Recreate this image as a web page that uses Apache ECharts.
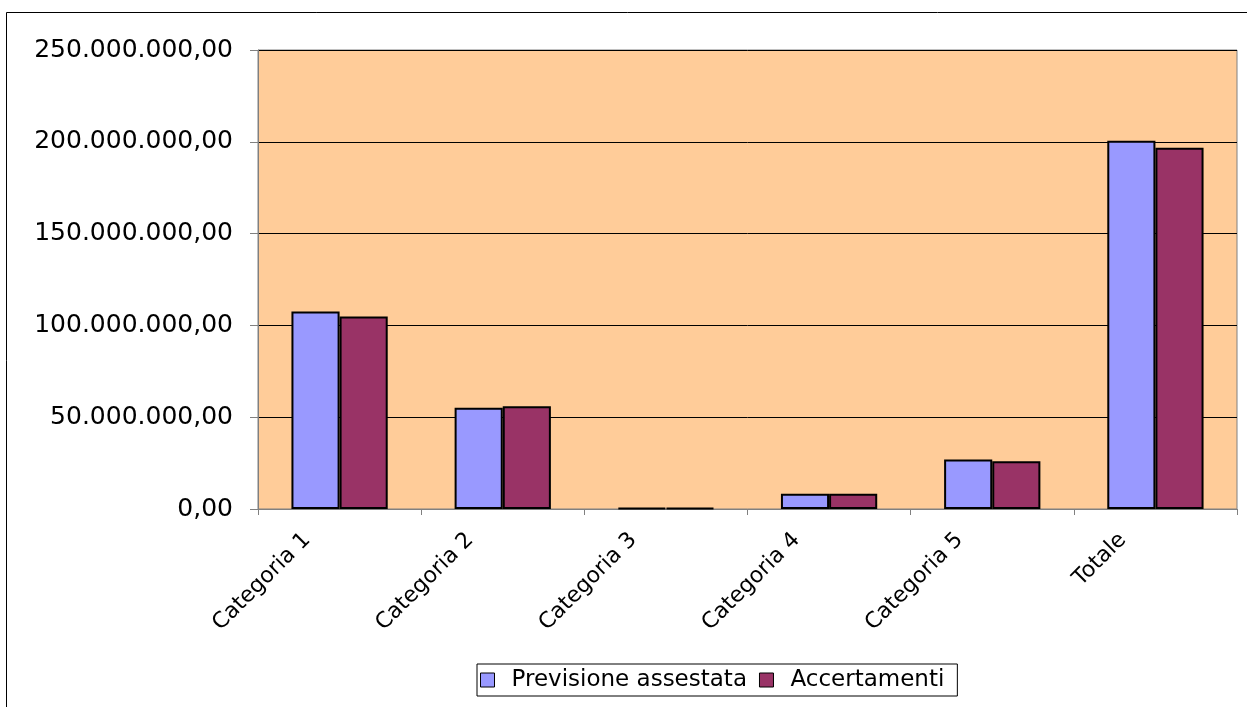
<!DOCTYPE html>
<html>
<head>
<meta charset="utf-8">
<script src="https://cdn.jsdelivr.net/npm/echarts@6/dist/echarts.min.js"></script>
<style>
html,body{margin:0;padding:0;background:#fff;}
#chart{width:1247px;height:707px;}
</style>
</head>
<body>
<div id="chart"></div>
<script>
var categories = ['Categoria 1', 'Categoria 2', 'Categoria 3', 'Categoria 4', 'Categoria 5', 'Totale'];
var previsione = [107600000, 55100000, 600000, 8300000, 26900000, 200600000];
var accertamenti = [104900000, 55900000, 600000, 8300000, 26000000, 196800000];
var seriesNames = ['Previsione assestata', 'Accertamenti'];

function fmt(v) {
  var s = Math.round(v).toString();
  s = s.replace(/\B(?=(\d{3})+(?!\d))/g, '.');
  return s + ',00';
}

var chart = echarts.init(document.getElementById('chart'), null, {renderer: 'canvas'});
var font = 'DejaVu Sans';
chart.setOption({
  animation: false,
  backgroundColor: '#ffffff',
  graphic: [{
    type: 'rect',
    shape: {x: 6.5, y: 12.5, width: 1250, height: 710},
    style: {fill: 'none', stroke: '#000', lineWidth: 1},
    silent: true
  }],
  grid: {
    left: 258, right: 10, top: 50, bottom: 198,
    show: true, backgroundColor: '#FFCC99', borderColor: '#808080', borderWidth: 1
  },
  legend: {
    data: seriesNames,
    left: 477, top: 664,
    itemWidth: 14, itemHeight: 14, itemGap: 12,
    icon: 'rect',
    padding: [4, 13, 4, 3],
    borderColor: '#000', borderWidth: 1,
    backgroundColor: '#fff',
    textStyle: {fontFamily: font, fontSize: 23, lineHeight: 24, color: '#000', padding: [0, 0, 0, 12]},
    itemStyle: {borderColor: '#000', borderWidth: 1}
  },
  xAxis: {
    type: 'category',
    data: categories,
    axisLine: {lineStyle: {color: '#808080', width: 1}},
    axisTick: {show: true, length: 6, lineStyle: {color: '#808080'}},
    axisLabel: {rotate: 45, fontFamily: font, fontSize: 22, color: '#000', margin: -5, interval: 0, padding: [0, 46, 0, 0]}
  },
  yAxis: {
    type: 'value',
    min: 0, max: 250000000, interval: 50000000,
    axisLine: {show: true, lineStyle: {color: '#808080', width: 1}},
    axisTick: {show: true, length: 8, lineStyle: {color: '#808080'}},
    splitLine: {lineStyle: {color: '#000', width: 1}},
    axisLabel: {fontFamily: font, fontSize: 25, color: '#000', margin: 25, formatter: fmt}
  },
  series: [{
    name: seriesNames[0], type: 'bar', data: previsione,
    barGap: '0%', barCategoryGap: '41%',
    itemStyle: {color: '#9999FF', borderColor: '#000', borderWidth: 2}
  }, {
    name: seriesNames[1], type: 'bar', data: accertamenti,
    barGap: '0%', barCategoryGap: '41%',
    itemStyle: {color: '#993366', borderColor: '#000', borderWidth: 2}
  }]
});
</script>
</body>
</html>
